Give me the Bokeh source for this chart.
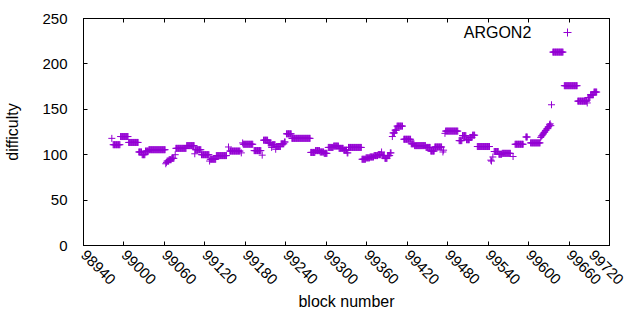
import math
from bokeh.plotting import figure
from bokeh.models import (Range1d, FixedTicker, LinearAxis, Legend, LegendItem,
                          Label, ColumnDataSource)
from bokeh.embed import file_html
from bokeh.resources import INLINE

# Runs of equal difficulty: first block, last block, difficulty
run_start = [98982, 98984, 98995, 99007, 99022, 99027, 99032, 99037, 99062, 99063,
             99064, 99067, 99071, 99076, 99077, 99093, 99105, 99106, 99115, 99127,
             99128, 99137, 99155, 99157, 99174, 99176, 99177, 99193, 99205, 99207,
             99214, 99219, 99220, 99225, 99226, 99233, 99238, 99241, 99249, 99277,
             99284, 99291, 99297, 99303, 99311, 99319, 99326, 99331, 99333, 99353,
             99359, 99365, 99371, 99377, 99382, 99383, 99387, 99391, 99395, 99398,
             99399, 99402, 99405, 99415, 99426, 99431, 99448, 99455, 99461, 99473,
             99474, 99476, 99477, 99497, 99502, 99508, 99513, 99517, 99524, 99544,
             99545, 99547, 99549, 99556, 99561, 99577, 99580, 99596, 99603, 99618,
             99619, 99620, 99621, 99622, 99623, 99624, 99625, 99626, 99627, 99628,
             99629, 99630, 99631, 99632, 99633, 99634, 99636, 99653, 99673, 99687,
             99688, 99692, 99697]
run_end = [98982, 98994, 99006, 99021, 99026, 99031, 99036, 99061, 99062, 99063,
           99066, 99070, 99074, 99076, 99092, 99104, 99105, 99114, 99126, 99127,
           99136, 99152, 99155, 99172, 99174, 99176, 99191, 99203, 99205, 99213,
           99218, 99219, 99224, 99225, 99232, 99237, 99239, 99248, 99276, 99283,
           99290, 99296, 99301, 99310, 99318, 99325, 99330, 99332, 99352, 99358,
           99364, 99370, 99376, 99381, 99382, 99386, 99390, 99394, 99396, 99398,
           99401, 99404, 99413, 99425, 99430, 99447, 99454, 99460, 99471, 99473,
           99474, 99476, 99495, 99501, 99507, 99512, 99516, 99520, 99542, 99544,
           99545, 99547, 99555, 99560, 99573, 99577, 99592, 99598, 99617, 99618,
           99619, 99620, 99621, 99622, 99623, 99624, 99625, 99626, 99627, 99628,
           99629, 99630, 99631, 99632, 99633, 99634, 99651, 99672, 99686, 99687,
           99691, 99696, 99701]
run_value = [118, 111, 120, 113.5, 103, 100, 104, 105.5, 90, 91.5,
             93, 94.5, 96, 100, 107, 110, 101, 105.5, 100, 93,
             95, 99, 108.5, 104, 102, 113, 111.5, 104.5, 99.5, 116,
             113, 108, 111, 106, 109, 112, 114, 123, 118, 102.5,
             104.5, 103, 101.5, 108, 109.5, 107, 105, 102, 108, 95,
             96.5, 97.5, 99, 100, 103, 99, 96, 99, 102, 120,
             124, 127, 131.5, 117, 112, 110, 108, 104, 108.5, 103,
             105, 123.5, 126, 115.5, 121, 116.5, 119, 121.5, 109, 94,
             93, 97.5, 103.5, 100.5, 101.5, 98, 111.5, 119.5, 113, 119,
             120.5, 121, 122.5, 123, 124.5, 125, 126.5, 127, 128.5, 129,
             130.5, 131, 133, 134, 132, 155, 213, 176, 159, 157,
             163, 166, 169]

x_ticks = [98940, 99000, 99060, 99120, 99180, 99240, 99300, 99360,
           99420, 99480, 99540, 99600, 99660, 99720]
y_ticks = [0, 50, 100, 150, 200, 250]
series_name = "ARGON2"

blocks, diffs = [], []
for s, e, v in zip(run_start, run_end, run_value):
    for b in range(s, e + 1):
        blocks.append(b)
        diffs.append(v)
src = ColumnDataSource(data=dict(block=blocks, difficulty=diffs))

FONT = "Liberation Sans"
FS_TICK = "15px"
FS_LABEL = "16px"
COLOR = "#9400d3"

p = figure(width=624, height=314, output_backend="svg", toolbar_location=None,
           x_range=Range1d(98940, 99720), y_range=Range1d(0, 250),
           min_border_left=83, min_border_right=15, min_border_top=18,
           min_border_bottom=69, background_fill_color="white",
           border_fill_color="white")
p.xgrid.visible = False
p.ygrid.visible = False
p.outline_line_color = "black"
p.outline_line_width = 1
p.outline_line_alpha = 1

for ax, ticks in ((p.xaxis[0], x_ticks), (p.yaxis[0], y_ticks)):
    ax.ticker = FixedTicker(ticks=ticks)
    ax.major_tick_in = 4
    ax.major_tick_out = 0
    ax.minor_tick_line_color = None
    ax.axis_line_color = "black"
    ax.major_tick_line_color = "black"
    ax.major_label_text_font = FONT
    ax.major_label_text_font_size = FS_TICK
    ax.major_label_text_color = "black"
    ax.axis_label_text_font = FONT
    ax.axis_label_text_font_size = FS_LABEL
    ax.axis_label_text_font_style = "normal"
    ax.axis_label_text_color = "black"

p.xaxis.axis_label = "block number"
p.yaxis.axis_label = "difficulty"
p.xaxis.major_label_orientation = -math.pi / 4
p.xaxis.major_label_standoff = 7
p.xaxis.axis_label_standoff = 1
p.yaxis.major_label_standoff = 16
p.yaxis.axis_label_standoff = 18

# mirrored ticks on top and right
top = LinearAxis(ticker=FixedTicker(ticks=x_ticks), major_tick_in=4, major_tick_out=0,
                 minor_tick_line_color=None, major_label_overrides={t: "" for t in x_ticks},
                 major_label_standoff=0, major_label_text_font_size="1px")
right = LinearAxis(ticker=FixedTicker(ticks=y_ticks), major_tick_in=4, major_tick_out=0,
                   minor_tick_line_color=None, major_label_overrides={t: "" for t in y_ticks},
                   major_label_standoff=0, major_label_text_font_size="1px")
p.add_layout(top, "above")
p.add_layout(right, "right")

r = p.scatter(x="block", y="difficulty", source=src, marker="cross", size=7,
              line_color=COLOR, line_width=1)

legend = Legend(items=[LegendItem(label=" ", renderers=[r])], location=(474, 203),
                padding=0, margin=0, spacing=0, glyph_width=20, glyph_height=20,
                label_standoff=0, label_text_font_size="1px",
                border_line_color=None, background_fill_alpha=0)
p.add_layout(legend)

p.add_layout(Label(x=99604, y=235, text=series_name, text_align="right",
                   text_baseline="middle", text_font=FONT, text_font_size=FS_LABEL,
                   text_color="black"))

open("out.html", "w").write(file_html(p, INLINE))
